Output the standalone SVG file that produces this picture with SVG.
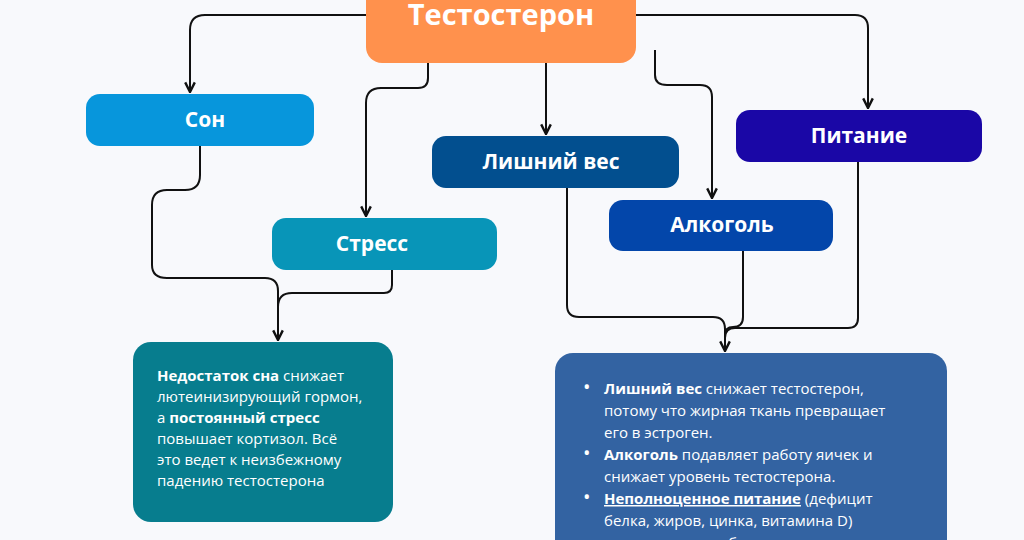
<svg xmlns="http://www.w3.org/2000/svg" width="1024" height="540" viewBox="0 0 1024 540">
<style>
.t{font-family:"Open Sans","Noto Sans",sans-serif;font-weight:700;fill:#fff;text-anchor:middle}
.b{font-family:"Open Sans","Noto Sans",sans-serif;font-size:15px;fill:#fff}
.c{fill:none;stroke:#111;stroke-width:2}
</style>
<defs><marker id="a" viewBox="0 0 10 10" refX="9" refY="5" markerWidth="6" markerHeight="6" orient="auto"><path d="M1,1 L9,5 L1,9" fill="none" stroke="#111" stroke-width="2"/></marker></defs>
<rect width="1024" height="540" fill="#f8f9fc"/>
<g id="connectors">
<path class="c" marker-end="url(#a)" d="M366,15 H205 Q190,15 190,30 V92"/>
<path class="c" marker-end="url(#a)" d="M428,63 V78 Q428,88 418,88 H381 Q366,88 366,103 V216"/>
<path class="c" marker-end="url(#a)" d="M546,63 V134"/>
<path class="c" marker-end="url(#a)" d="M655,50 V75 Q655,85 667,85 H700 Q712,85 712,97 V198"/>
<path class="c" marker-end="url(#a)" d="M636,15 H855 Q868,15 868,28 V108"/>
<path class="c" marker-end="url(#a)" d="M200,146 V175 Q200,190 185,190 H167 Q152,190 152,205 V265 Q152,278 167,278 H265 Q278,278 278,291 V340"/>
<path class="c" d="M392,270 V285 Q392,293 384,293 H292 Q278,293 278,307"/>
<path class="c" marker-end="url(#a)" d="M567,188 V305 Q567,317 579,317 H713 Q725,317 725,329 V351"/>
<path class="c" d="M743,251 V317 Q743,327 733,327 Q725,327 725,335"/>
<path class="c" d="M858,162 V318 Q858,328 848,328 H735 Q725,328 725,338"/>
</g>
<g id="testosteron"><rect x="366" y="-20" width="270" height="83" rx="16" fill="#ff914d"/><text class="t" x="501" y="25" font-size="29">Тестостерон</text></g>
<g id="son"><rect x="86" y="94" width="228" height="52" rx="14" fill="#0796dc"/><text class="t" x="205" y="127" font-size="21">Сон</text></g>
<g id="stress"><rect x="272" y="218" width="225" height="52" rx="14" fill="#0895b8"/><text class="t" x="372" y="251" font-size="21">Стресс</text></g>
<g id="ves"><rect x="432" y="136" width="247" height="52" rx="14" fill="#024f8f"/><text class="t" x="551" y="169" font-size="21">Лишний вес</text></g>
<g id="alko"><rect x="609" y="200" width="224" height="51" rx="14" fill="#0346aa"/><text class="t" x="722" y="232" font-size="21">Алкоголь</text></g>
<g id="pit"><rect x="736" y="110" width="246" height="52" rx="14" fill="#1a07a6"/><text class="t" x="859" y="143" font-size="21">Питание</text></g>
<g id="left"><rect x="133" y="342" width="260" height="180" rx="18" fill="#077d8e"/>
<text class="b"><tspan x="157" y="381"><tspan font-weight="700">Недостаток сна</tspan> снижает</tspan><tspan x="157" y="402">лютеинизирующий гормон,</tspan><tspan x="157" y="423">а <tspan font-weight="700">постоянный стресс</tspan></tspan><tspan x="157" y="444">повышает кортизол.  Всё</tspan><tspan x="157" y="465">это ведет к неизбежному</tspan><tspan x="157" y="486">падению тестостерона</tspan></text></g>
<g id="right"><rect x="555" y="353" width="392" height="210" rx="18" fill="#3363a2"/>
<text class="b" font-size="16.3"><tspan x="583" y="394" font-size="20">•</tspan><tspan x="604" y="394"><tspan font-weight="700">Лишний вес</tspan> снижает тестостерон,</tspan><tspan x="604" y="416">потому что жирная ткань превращает</tspan><tspan x="604" y="438">его в эстроген.</tspan><tspan x="583" y="460" font-size="20">•</tspan><tspan x="604" y="460"><tspan font-weight="700">Алкоголь</tspan> подавляет работу яичек и</tspan><tspan x="604" y="482">снижает уровень тестостерона.</tspan><tspan x="583" y="504" font-size="20">•</tspan><tspan x="604" y="504"><tspan font-weight="700" text-decoration="underline">Неполноценное питание</tspan> (дефицит</tspan><tspan x="604" y="526">белка, жиров, цинка, витамина D)</tspan><tspan x="604" y="548">уменьшает выработку гормона.</tspan></text></g>
</svg>
